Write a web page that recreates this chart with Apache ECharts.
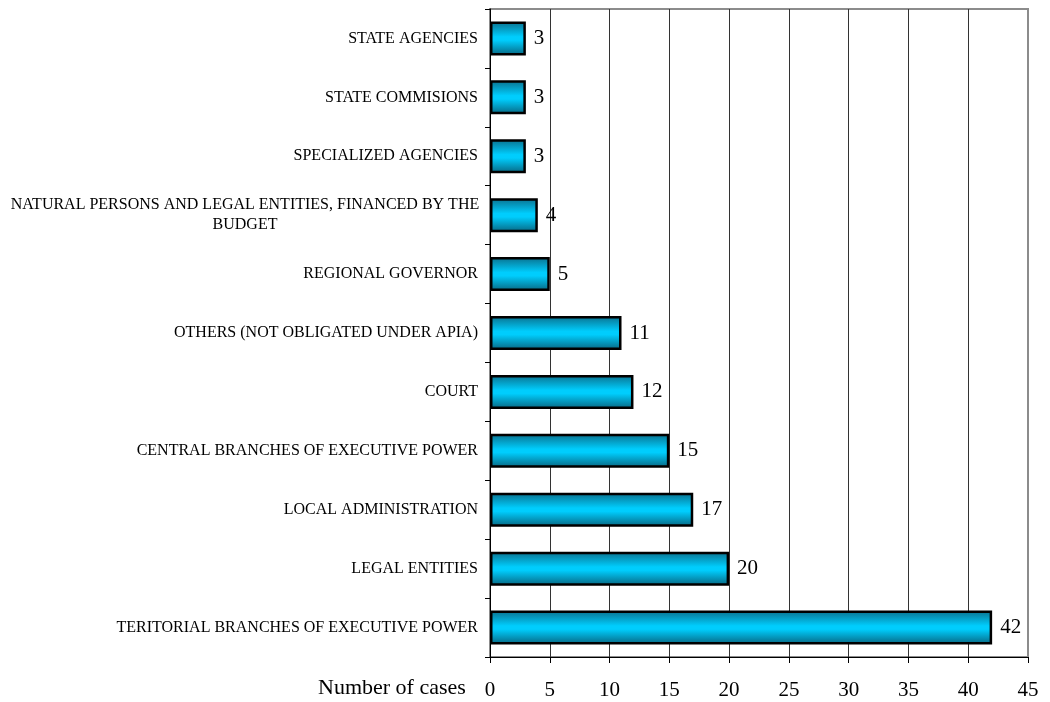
<!DOCTYPE html>
<html>
<head>
<meta charset="utf-8">
<script src="https://cdn.jsdelivr.net/npm/echarts@6/dist/echarts.min.js"></script>
<style>
  html, body { margin: 0; padding: 0; background: #fff; }
  #chart { width: 1050px; height: 702px; }
</style>
</head>
<body>
<div id="chart"></div>
<script>
// categories bottom -> top, same as the picture read from below
const categories = [
  'TERITORIAL BRANCHES OF EXECUTIVE POWER',
  'LEGAL ENTITIES',
  'LOCAL ADMINISTRATION',
  'CENTRAL BRANCHES OF EXECUTIVE POWER',
  'COURT',
  'OTHERS (NOT OBLIGATED UNDER APIA)',
  'REGIONAL GOVERNOR',
  'NATURAL PERSONS AND LEGAL ENTITIES, FINANCED BY THE\nBUDGET',
  'SPECIALIZED AGENCIES',
  'STATE COMMISIONS',
  'STATE AGENCIES'
];
const cases = [42, 20, 17, 15, 12, 11, 5, 4, 3, 3, 3];
const xMax = 45;
const xStep = 5;

const serif = '"Liberation Serif", "DejaVu Serif", serif';

var chart = echarts.init(document.getElementById('chart'), null, { renderer: 'canvas' });

var option = {
  animation: false,
  backgroundColor: '#fff',
  title: {
    text: 'Number of cases',
    left: 318,
    top: 677,
    padding: 0,
    textStyle: { fontFamily: serif, fontSize: 22, fontWeight: 'normal', color: '#000' }
  },
  grid: {
    left: 490,
    right: 22,
    top: 9,
    bottom: 45,
    show: true,
    borderColor: '#8c8c8c',
    borderWidth: 2,
    backgroundColor: 'transparent'
  },
  xAxis: {
    type: 'value',
    min: 0,
    max: xMax,
    interval: xStep,
    axisLine: { show: true, lineStyle: { color: '#000', width: 1 } },
    axisTick: { show: true, length: 6, lineStyle: { color: '#000' } },
    axisLabel: { fontFamily: serif, fontSize: 21, color: '#000', margin: 23 },
    splitLine: { show: true, showMaxLine: false, lineStyle: { color: '#333', width: 1 } }
  },
  yAxis: {
    type: 'category',
    data: categories,
    axisLine: { show: true, lineStyle: { color: '#000', width: 1 } },
    axisTick: { show: true, length: 5, lineStyle: { color: '#000' } },
    axisLabel: {
      fontFamily: serif,
      fontSize: 16,
      color: '#000',
      margin: 12,
      formatter: function (v) {
        if (v.indexOf('\n') >= 0) {
          return '{c|' + v + '}'; // wrapped label is centred like in the picture
        }
        return v;
      },
      rich: {
        c: { fontFamily: serif, fontSize: 16, color: '#000', width: 466, align: 'center', lineHeight: 20 }
      }
    },
    splitLine: { show: false }
  },
  series: [
    {
      type: 'bar',
      data: cases,
      barWidth: 34,
      itemStyle: {
        color: new echarts.graphic.LinearGradient(0, 0, 0, 1, [
          { offset: 0, color: '#0a6f8c' },
          { offset: 0.45, color: '#00cdfd' },
          { offset: 0.55, color: '#00cdfd' },
          { offset: 1, color: '#086580' }
        ]),
        borderColor: '#000',
        borderWidth: 2.5
      },
      label: {
        show: true,
        position: 'right',
        distance: 8,
        fontFamily: serif,
        fontSize: 21,
        color: '#000'
      }
    }
  ]
};

chart.setOption(option);
window.addEventListener('resize', chart.resize);
</script>
</body>
</html>
